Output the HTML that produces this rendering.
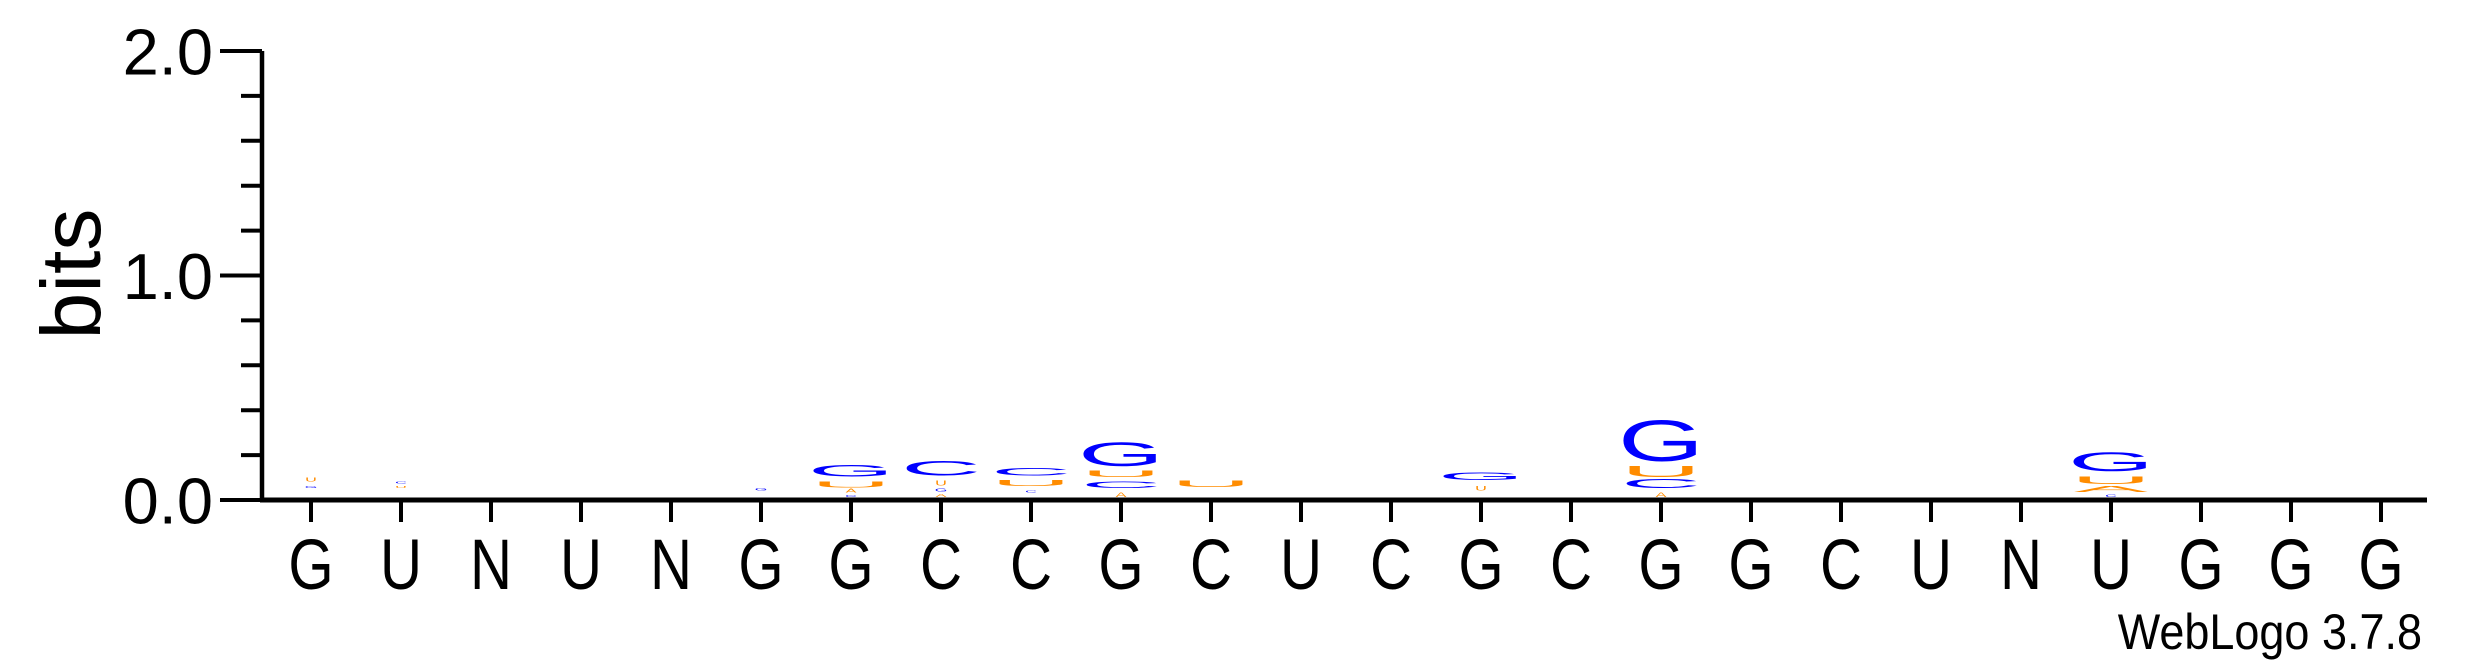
<!DOCTYPE html>
<html><head><meta charset="utf-8"><style>
html,body{margin:0;padding:0;background:#fff;}
svg{display:block;font-family:"Liberation Sans",sans-serif;}
</style></head><body>
<svg id="chart" width="2475" height="667" viewBox="0 0 2475 667" xmlns="http://www.w3.org/2000/svg">
<text transform="translate(100,274) rotate(-90)" text-anchor="middle" font-size="84">bits</text>
<text x="0" y="0" text-anchor="end" font-size="50" transform="translate(2422,649) scale(0.9,1)">WebLogo 3.7.8</text>
<g id="axes"></g>
<g id="stacks"></g>
</svg>
<script>
const positions = ["G","U","N","U","N","G","G","C","C","G","C","U","C","G","C","G","G","C","U","N","U","G","G","G"];
const yTicks = [0,1,2];
const yTickLabels = ["0.0","1.0","2.0"];
// stacks per column, bottom-to-top; " " = empty space (small hidden symbols)
const stackLetters = [[" ","G"," ","U"],[" ","U"," ","C"],[],[],[],[" ","G"],
 ["C"," ","A"," ","U"," ","G"],["A"," ","G"," ","U"," ","C"],[" ","C"," ","U"," ","C"],["A"," ","C"," ","U"," ","G"],
 [" ","U"],[],[],[" ","U"," ","G"],[],["A"," ","C"," ","U"," ","G"],[],[],[],[],
 ["C"," ","A"," ","U"," ","G"],[],[],[]];
const stackHeights = [[0.04,0.01,0.018,0.018],[0.04,0.01,0.01,0.01],[],[],[],[0.03,0.012],
 [0.01,0.01,0.018,0.005,0.027,0.022,0.054],[0.015,0.01,0.014,0.013,0.022,0.022,0.067],[0.02,0.01,0.02,0.025,0.02,0.036],[0.02,0.02,0.03,0.02,0.03,0.018,0.11],
 [0.045,0.03],[],[],[0.03,0.02,0.025,0.036],[],[0.02,0.02,0.04,0.01,0.05,0.02,0.187],[],[],[],[],
 [0.012,0.01,0.025,0.01,0.036,0.022,0.085],[],[],[]];
const colors = {G:"#0000ff",C:"#0000ff",U:"#ff8c00",A:"#ff8c00"," ":"none"};
const NS="http://www.w3.org/2000/svg";
const x0=311, dx=90, base=500, bitPx=224.5, axisX=262, stackBase=497;
const xs=i=>x0+i*dx, ys=v=>base-v*bitPx;
const axes=document.getElementById('axes');
function mk(tag,attrs,parent){const e=document.createElementNS(NS,tag);for(const k in attrs)e.setAttribute(k,attrs[k]);parent.appendChild(e);return e;}
let l=mk('line',{x1:axisX,y1:ys(2),x2:axisX,y2:base+2,stroke:"#000","stroke-width":4.5},axes);


l=mk('line',{x1:axisX-2,y1:base,x2:2427,y2:base,stroke:"#000","stroke-width":5},axes);


for(let k=0;k<=10;k++){const v=k*0.2;const major=k%5===0;
 const t=mk('line',{x1:major?axisX-42:axisX-21,y1:ys(v),x2:axisX,y2:ys(v),stroke:"#000","stroke-width":4},axes);
 
 }
yTicks.forEach((v,i)=>{const t=mk('text',{x:213,y:ys(v)+23.5,"text-anchor":"end","font-size":65},axes);t.textContent=yTickLabels[i];
 
 });
positions.forEach((p,i)=>{const t=mk('line',{x1:xs(i),y1:base,x2:xs(i),y2:522,stroke:"#000","stroke-width":4},axes);
 
 
 const tx=mk('text',{x:0,y:0,"text-anchor":"middle","font-size":71,transform:`translate(${xs(i)},589) scale(0.82,1)`},axes);tx.textContent=p;
 
 });
const stacks=document.getElementById('stacks');
stackLetters.forEach((letters,i)=>{let y=stackBase;letters.forEach((c,j)=>{const h=stackHeights[i][j];const hp=h*bitPx;
 if(c!==" "){
  const w = h>=0.025 ? 82 : 12;
  const t=mk('text',{x:0,y:0,"text-anchor":"middle","font-size":100,fill:colors[c],transform:`translate(${xs(i)},${y}) scale(${w/74},${hp/72})`},stacks);
  t.textContent=c;
  
  
 }
 y-=hp;});});
</script>
</body></html>
